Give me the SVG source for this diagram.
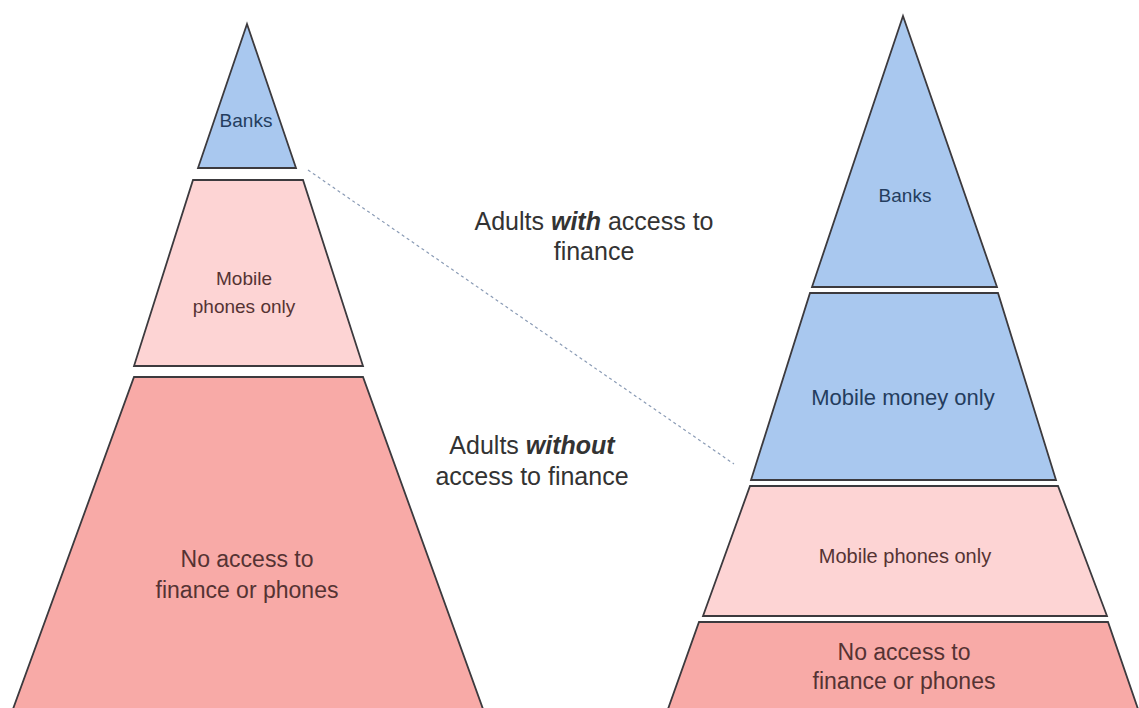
<svg xmlns="http://www.w3.org/2000/svg" width="1139" height="708" viewBox="0 0 1139 708">
  <style>
    .shape { stroke: #3c3a3e; stroke-width: 1.8; stroke-linejoin: miter; }
    .blue { fill: #a9c8ef; }
    .pink { fill: #fdd4d4; }
    .salmon { fill: #f8aaa7; }
    text { font-family: "Liberation Sans", Arial, sans-serif; text-anchor: middle; }
    .tb { fill: #243d5e; }
    .tp { fill: #553333; }
    .lbl { fill: #333333; font-size: 25px; }
    .conn { stroke: #8a9bb5; stroke-width: 1.2; stroke-dasharray: 3 3; fill: none; }
  </style>
  <rect width="1139" height="708" fill="#ffffff"/>

  <g id="connectors">
    <line class="conn" x1="308" y1="170" x2="734" y2="464"/>
  </g>

  <!-- Left pyramid -->
  <g id="left-banks">
    <polygon class="shape blue" points="247,24 296,168 198,168"/>
    <text class="tb" x="246" y="127" font-size="19">Banks</text>
  </g>
  <g id="left-mobile-phones">
    <polygon class="shape pink" points="193,180 303,180 363,366 134,366"/>
    <text class="tp" x="244" y="285" font-size="19">Mobile</text>
    <text class="tp" x="244" y="313" font-size="19">phones only</text>
  </g>
  <g id="left-no-access">
    <polygon class="shape salmon" points="134,377 363,377 483,709 13,709"/>
    <text class="tp" x="247" y="567" font-size="23">No access to</text>
    <text class="tp" x="247" y="598" font-size="23">finance or phones</text>
  </g>

  <!-- Right pyramid -->
  <g id="right-banks">
    <polygon class="shape blue" points="903,16 997,287 812,287"/>
    <text class="tb" x="905" y="202" font-size="19">Banks</text>
  </g>
  <g id="right-mobile-money">
    <polygon class="shape blue" points="810,293 998,293 1056,480 751,480"/>
    <text class="tb" x="903" y="405" font-size="22">Mobile money only</text>
  </g>
  <g id="right-mobile-phones">
    <polygon class="shape pink" points="750,486 1058,486 1107,616 703,616"/>
    <text class="tp" x="905" y="563" font-size="20">Mobile phones only</text>
  </g>
  <g id="right-no-access">
    <polygon class="shape salmon" points="699,622 1108,622 1138,709 668,709"/>
    <text class="tp" x="904" y="660" font-size="23">No access to</text>
    <text class="tp" x="904" y="689" font-size="23">finance or phones</text>
  </g>

  <!-- Labels -->
  <g id="label-with">
    <text class="lbl" x="594" y="230">Adults <tspan font-weight="bold" font-style="italic">with</tspan> access to</text>
    <text class="lbl" x="594" y="260">finance</text>
  </g>
  <g id="label-without">
    <text class="lbl" x="532" y="454">Adults <tspan font-weight="bold" font-style="italic">without</tspan></text>
    <text class="lbl" x="532" y="485">access to finance</text>
  </g>
</svg>
